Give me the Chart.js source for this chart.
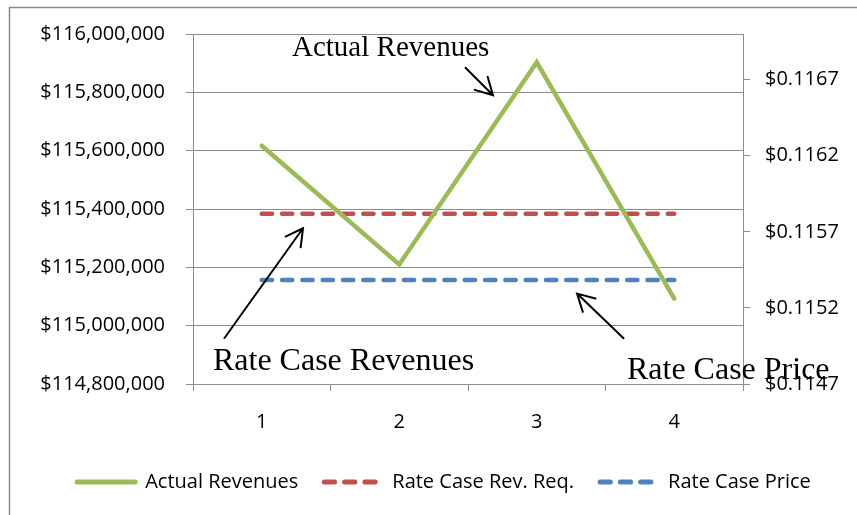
<!DOCTYPE html>
<html>
<head>
<meta charset="utf-8">
<script src="https://cdn.jsdelivr.net/npm/chart.js@4"></script>
<style>
  html, body { margin: 0; padding: 0; background: #fff; }
  #wrap { position: relative; width: 857px; height: 515px; }
</style>
</head>
<body>
<div id="wrap"><canvas id="mainChart"></canvas></div>
<script>
const periods = ["1", "2", "3", "4"];
const actualRevenues = [115617000, 115210000, 115903000, 115093000];
const rateCaseRevReq = [115384000, 115384000, 115384000, 115384000];
const rateCasePrice = [0.115383, 0.115383, 0.115383, 0.115383];
const priceTicks = [0.1147, 0.1152, 0.1157, 0.1162, 0.1167];

const GREEN = "#9bbb59";
const RED = "#c0504d";
const BLUE = "#4f81bd";
const GRID = "#8c8c8c";
const DASH = [10.3, 10];
const sansFont = "'Open Sans'";

/* callouts, placed in data space: [category index, left axis value] */
const callouts = [
  { text: "Actual Revenues", size: 29, at: [0.22, 115924000], from: [1.478, 115886000], to: [1.682, 115790000] },
  { text: "Rate Case Revenues", size: 32, at: [-0.355, 114848000], from: [-0.275, 114955000], to: [0.300, 115334000] },
  { text: "Rate Case Price", size: 32, at: [2.656, 114817000], from: [2.635, 114955000], to: [2.293, 115110000] }
];

const money = new Intl.NumberFormat("en-US");

const frame = {
  id: "frame",
  beforeDraw(chart) {
    const c = chart.ctx;
    c.save();
    c.strokeStyle = "#8a8a8a";
    c.lineWidth = 1.5;
    c.strokeRect(9.5, 7.5, 900, 600);
    c.restore();
  }
};

const notes = {
  id: "notes",
  afterDraw(chart) {
    const c = chart.ctx;
    const xs = chart.scales.x, ys = chart.scales.y;
    const px = p => [xs.getPixelForValue(p[0]), ys.getPixelForValue(p[1])];
    c.save();
    c.fillStyle = "#000";
    c.strokeStyle = "#000";
    c.lineWidth = 2;
    c.textBaseline = "alphabetic";
    callouts.forEach(n => {
      c.font = n.size + "px 'Liberation Serif'";
      const [tx, ty] = px(n.at);
      c.fillText(n.text, tx, ty);
      const [ax, ay] = px(n.from);
      const [bx, by] = px(n.to);
      c.beginPath();
      c.moveTo(ax, ay);
      c.lineTo(bx, by);
      const ang = Math.atan2(by - ay, bx - ax);
      const len = 20, spread = 0.5;
      c.moveTo(bx - len * Math.cos(ang - spread), by - len * Math.sin(ang - spread));
      c.lineTo(bx, by);
      c.lineTo(bx - len * Math.cos(ang + spread), by - len * Math.sin(ang + spread));
      c.stroke();
    });
    c.restore();
  }
};

new Chart(document.getElementById("mainChart"), {
  type: "line",
  data: {
    labels: periods,
    datasets: [
      {
        label: "Actual Revenues",
        data: actualRevenues,
        borderColor: GREEN,
        borderWidth: 4.5,
        borderCapStyle: "round",
        borderJoinStyle: "miter",
        yAxisID: "y"
      },
      {
        label: "Rate Case Rev. Req.",
        data: rateCaseRevReq,
        borderColor: RED,
        borderWidth: 4.5,
        borderDash: DASH,
        borderCapStyle: "round",
        yAxisID: "y"
      },
      {
        label: "Rate Case Price",
        data: rateCasePrice,
        borderColor: BLUE,
        borderWidth: 4.5,
        borderDash: DASH,
        borderCapStyle: "round",
        yAxisID: "y2"
      }
    ]
  },
  options: {
    responsive: true,
    maintainAspectRatio: false,
    animation: false,
    elements: { point: { radius: 0, hoverRadius: 0 }, line: { tension: 0 } },
    layout: { padding: { top: 34, bottom: 13, left: 31, right: 0 } },
    plugins: {
      tooltip: { enabled: false },
      legend: {
        position: "bottom",
        labels: {
          color: "#000",
          font: { family: sansFont, size: 20 },
          usePointStyle: true,
          pointStyleWidth: 58,
          boxWidth: 58,
          padding: 26,
          generateLabels(chart) {
            return chart.data.datasets.map((ds, i) => ({
              text: ds.label,
              datasetIndex: i,
              pointStyle: "line",
              strokeStyle: ds.borderColor,
              fillStyle: ds.borderColor,
              lineWidth: 5,
              lineDash: ds.borderDash || [],
              lineCap: "round",
              fontColor: "#000"
            }));
          }
        }
      }
    },
    scales: {
      x: {
        offset: true,
        grid: { offset: true, drawOnChartArea: false, drawTicks: true, tickLength: 7, color: GRID },
        border: { color: GRID, width: 1 },
        ticks: { color: "#000", font: { family: sansFont, size: 20 }, padding: 19, maxRotation: 0 },
        afterFit(s) { s.height = 62; }
      },
      y: {
        position: "left",
        min: 114800000,
        max: 116000000,
        ticks: {
          stepSize: 200000,
          color: "#000",
          font: { family: sansFont, size: 20 },
          padding: 21,
          callback: v => "$" + money.format(v)
        },
        grid: { color: GRID, tickLength: 7 },
        border: { color: GRID, width: 1 },
        afterFit(s) { s.width = 162; }
      },
      y2: {
        position: "right",
        min: 0.1147,
        max: 0.1170,
        afterBuildTicks(s) { s.ticks = priceTicks.map(v => ({ value: v })); },
        ticks: {
          color: "#000",
          font: { family: sansFont, size: 20 },
          padding: 15,
          callback: v => "$" + v.toFixed(4)
        },
        grid: { drawOnChartArea: false, color: GRID, tickLength: 7 },
        border: { color: GRID, width: 1 },
        afterFit(s) { s.width = 114; }
      }
    }
  },
  plugins: [frame, notes]
});
</script>
</body>
</html>
